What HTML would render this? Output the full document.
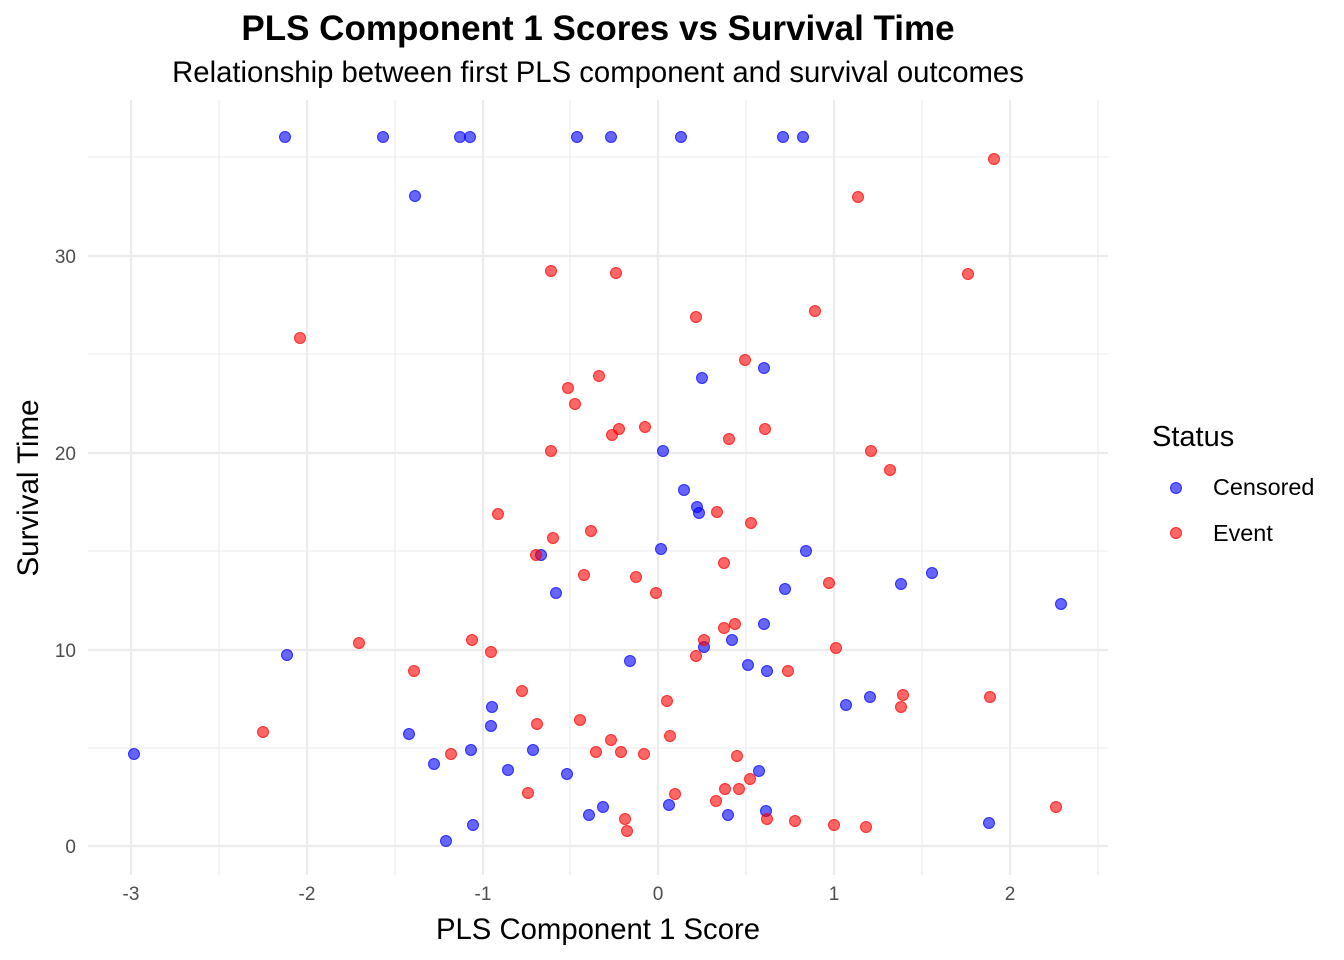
<!DOCTYPE html>
<html><head><meta charset="utf-8"><style>body{margin:0;background:#fff}svg{display:block}</style></head><body>
<svg width="1344" height="960" xmlns="http://www.w3.org/2000/svg" font-family="Liberation Sans, sans-serif">
<rect width="1344" height="960" fill="#fff"/>
<g stroke="#ebebeb" stroke-width="1.1">
<line x1="88" x2="1108" y1="748" y2="748"/><line x1="88" x2="1108" y1="551" y2="551"/><line x1="88" x2="1108" y1="354" y2="354"/><line x1="88" x2="1108" y1="157" y2="157"/>
<line y1="100" y2="875" x1="219" x2="219"/><line y1="100" y2="875" x1="395" x2="395"/><line y1="100" y2="875" x1="570" x2="570"/><line y1="100" y2="875" x1="746" x2="746"/><line y1="100" y2="875" x1="922" x2="922"/><line y1="100" y2="875" x1="1098" x2="1098"/>
</g>
<g stroke="#ebebeb" stroke-width="2.2">
<line x1="88" x2="1108" y1="846" y2="846"/><line x1="88" x2="1108" y1="650" y2="650"/><line x1="88" x2="1108" y1="453" y2="453"/><line x1="88" x2="1108" y1="256" y2="256"/>
<line y1="100" y2="875" x1="131" x2="131"/><line y1="100" y2="875" x1="307" x2="307"/><line y1="100" y2="875" x1="483" x2="483"/><line y1="100" y2="875" x1="658" x2="658"/><line y1="100" y2="875" x1="834" x2="834"/><line y1="100" y2="875" x1="1010" x2="1010"/>
</g>
<g fill="#0000ff" fill-opacity="0.6" stroke="#0000ff" stroke-opacity="0.75" stroke-width="1">
<circle cx="285" cy="137" r="5.5"/><circle cx="383" cy="137" r="5.5"/><circle cx="460" cy="137" r="5.5"/><circle cx="470" cy="137" r="5.5"/><circle cx="577" cy="137" r="5.5"/><circle cx="611" cy="137" r="5.5"/><circle cx="681" cy="137" r="5.5"/><circle cx="783" cy="137" r="5.5"/><circle cx="803" cy="137" r="5.5"/><circle cx="415" cy="196" r="5.5"/><circle cx="764" cy="368" r="5.5"/><circle cx="702" cy="378" r="5.5"/><circle cx="663" cy="451" r="5.5"/><circle cx="684" cy="490" r="5.5"/><circle cx="697" cy="507" r="5.5"/><circle cx="699" cy="513" r="5.5"/><circle cx="541" cy="555" r="5.5"/><circle cx="661" cy="549" r="5.5"/><circle cx="806" cy="551" r="5.5"/><circle cx="556" cy="593" r="5.5"/><circle cx="932" cy="573" r="5.5"/><circle cx="901" cy="584" r="5.5"/><circle cx="785" cy="589" r="5.5"/><circle cx="1061" cy="604" r="5.5"/><circle cx="764" cy="624" r="5.5"/><circle cx="287" cy="655" r="5.5"/><circle cx="732" cy="640" r="5.5"/><circle cx="704" cy="647" r="5.5"/><circle cx="630" cy="661" r="5.5"/><circle cx="748" cy="665" r="5.5"/><circle cx="767" cy="671" r="5.5"/><circle cx="870" cy="697" r="5.5"/><circle cx="846" cy="705" r="5.5"/><circle cx="492" cy="707" r="5.5"/><circle cx="491" cy="726" r="5.5"/><circle cx="409" cy="734" r="5.5"/><circle cx="471" cy="750" r="5.5"/><circle cx="533" cy="750" r="5.5"/><circle cx="434" cy="764" r="5.5"/><circle cx="508" cy="770" r="5.5"/><circle cx="567" cy="774" r="5.5"/><circle cx="759" cy="771" r="5.5"/><circle cx="603" cy="807" r="5.5"/><circle cx="669" cy="805" r="5.5"/><circle cx="589" cy="815" r="5.5"/><circle cx="728" cy="815" r="5.5"/><circle cx="766" cy="811" r="5.5"/><circle cx="473" cy="825" r="5.5"/><circle cx="446" cy="841" r="5.5"/><circle cx="989" cy="823" r="5.5"/><circle cx="134" cy="754" r="5.5"/>
<circle cx="1176" cy="488" r="5.5"/>
</g>
<g fill="#ff0000" fill-opacity="0.6" stroke="#ff0000" stroke-opacity="0.75" stroke-width="1">
<circle cx="994" cy="159" r="5.5"/><circle cx="858" cy="197" r="5.5"/><circle cx="551" cy="271" r="5.5"/><circle cx="616" cy="273" r="5.5"/><circle cx="968" cy="274" r="5.5"/><circle cx="300" cy="338" r="5.5"/><circle cx="696" cy="317" r="5.5"/><circle cx="815" cy="311" r="5.5"/><circle cx="745" cy="360" r="5.5"/><circle cx="599" cy="376" r="5.5"/><circle cx="568" cy="388" r="5.5"/><circle cx="575" cy="404" r="5.5"/><circle cx="612" cy="435" r="5.5"/><circle cx="619" cy="429" r="5.5"/><circle cx="645" cy="427" r="5.5"/><circle cx="729" cy="439" r="5.5"/><circle cx="765" cy="429" r="5.5"/><circle cx="551" cy="451" r="5.5"/><circle cx="871" cy="451" r="5.5"/><circle cx="890" cy="470" r="5.5"/><circle cx="498" cy="514" r="5.5"/><circle cx="751" cy="523" r="5.5"/><circle cx="591" cy="531" r="5.5"/><circle cx="553" cy="538" r="5.5"/><circle cx="717" cy="512" r="5.5"/><circle cx="536" cy="555" r="5.5"/><circle cx="724" cy="563" r="5.5"/><circle cx="584" cy="575" r="5.5"/><circle cx="636" cy="577" r="5.5"/><circle cx="829" cy="583" r="5.5"/><circle cx="656" cy="593" r="5.5"/><circle cx="359" cy="643" r="5.5"/><circle cx="472" cy="640" r="5.5"/><circle cx="491" cy="652" r="5.5"/><circle cx="414" cy="671" r="5.5"/><circle cx="735" cy="624" r="5.5"/><circle cx="724" cy="628" r="5.5"/><circle cx="704" cy="640" r="5.5"/><circle cx="836" cy="648" r="5.5"/><circle cx="696" cy="656" r="5.5"/><circle cx="788" cy="671" r="5.5"/><circle cx="903" cy="695" r="5.5"/><circle cx="990" cy="697" r="5.5"/><circle cx="901" cy="707" r="5.5"/><circle cx="522" cy="691" r="5.5"/><circle cx="667" cy="701" r="5.5"/><circle cx="580" cy="720" r="5.5"/><circle cx="537" cy="724" r="5.5"/><circle cx="670" cy="736" r="5.5"/><circle cx="263" cy="732" r="5.5"/><circle cx="451" cy="754" r="5.5"/><circle cx="611" cy="740" r="5.5"/><circle cx="596" cy="752" r="5.5"/><circle cx="621" cy="752" r="5.5"/><circle cx="644" cy="754" r="5.5"/><circle cx="737" cy="756" r="5.5"/><circle cx="750" cy="779" r="5.5"/><circle cx="725" cy="789" r="5.5"/><circle cx="739" cy="789" r="5.5"/><circle cx="528" cy="793" r="5.5"/><circle cx="675" cy="794" r="5.5"/><circle cx="716" cy="801" r="5.5"/><circle cx="1056" cy="807" r="5.5"/><circle cx="625" cy="819" r="5.5"/><circle cx="627" cy="831" r="5.5"/><circle cx="767" cy="819" r="5.5"/><circle cx="795" cy="821" r="5.5"/><circle cx="834" cy="825" r="5.5"/><circle cx="866" cy="827" r="5.5"/>
<circle cx="1176" cy="533" r="5.5"/>
</g>
<g fill="#4d4d4d" font-size="19" text-anchor="middle">
<text x="131" y="900">-3</text><text x="307" y="900">-2</text><text x="483" y="900">-1</text><text x="658" y="900">0</text><text x="834" y="900">1</text><text x="1010" y="900">2</text>
</g>
<g fill="#4d4d4d" font-size="19" text-anchor="end">
<text x="76" y="853">0</text><text x="76" y="657">10</text><text x="76" y="460">20</text><text x="76" y="263">30</text>
</g>
<text x="598" y="939" font-size="29.3" text-anchor="middle" fill="#000">PLS Component 1 Score</text>
<text transform="translate(38,488) rotate(-90)" font-size="29.5" text-anchor="middle" fill="#000">Survival Time</text>
<text x="598" y="40" font-size="35" font-weight="bold" text-anchor="middle" fill="#000">PLS Component 1 Scores vs Survival Time</text>
<text x="598" y="82" font-size="29.3" text-anchor="middle" fill="#000">Relationship between first PLS component and survival outcomes</text>
<text x="1152" y="446" font-size="29" fill="#000">Status</text>
<text x="1213" y="495" font-size="23.4" fill="#000">Censored</text>
<text x="1213" y="541" font-size="23.4" fill="#000">Event</text>
</svg>
</body></html>
